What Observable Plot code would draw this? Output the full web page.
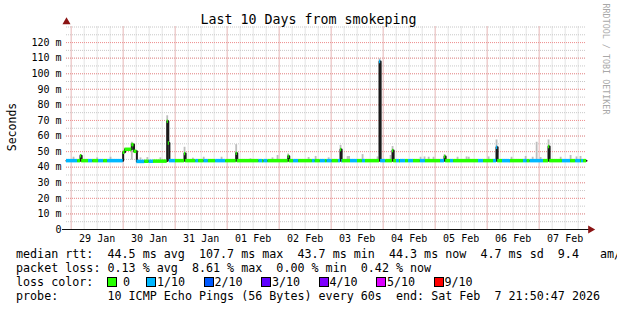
<!DOCTYPE html>
<html><head><meta charset="utf-8">
<script src="https://cdn.jsdelivr.net/npm/d3@7"></script>
<script src="https://cdn.jsdelivr.net/npm/@observablehq/plot@0.6"></script>
<style>
html,body{margin:0;padding:0;background:#fff;}
#wrap{position:relative;width:617px;height:310px;overflow:hidden;background:#fff;font-family:"DejaVu Sans Mono",monospace;color:#000;}
#wrap svg{position:absolute;left:0;top:0;}
.t{position:absolute;white-space:pre;line-height:14px;}
.sw{position:absolute;width:8px;height:8px;border:1px solid #000;box-sizing:content-box;}
</style></head><body><div id="wrap"></div>
<script>
// ---------- data ----------
const titleText = "Last 10 Days from smokeping";
const yLabel = "Seconds";
const watermark = "RRDTOOL / TOBI OETIKER";
const startTime = "2026-01-28T21:50:47";
const endTime = "2026-02-07T21:50:47";
const dayDates = ["2026-01-29","2026-01-30","2026-01-31","2026-02-01","2026-02-02","2026-02-03","2026-02-04","2026-02-05","2026-02-06","2026-02-07"];
const yTicks = [0,10,20,30,40,50,60,70,80,90,100,110,120];

const medTimes = [
"2026-01-28T21:50:47","2026-01-29T03:00","2026-01-29T04:20","2026-01-29T04:50","2026-01-29T08:00","2026-01-29T10:00","2026-01-29T12:40","2026-01-29T15:00","2026-01-29T16:50",
"2026-01-30T00:00","2026-01-30T00:50","2026-01-30T04:00","2026-01-30T05:00","2026-01-30T06:20","2026-01-30T10:00","2026-01-30T12:00","2026-01-30T14:00","2026-01-30T20:20","2026-01-30T20:50","2026-01-30T21:20",
"2026-01-31T00:10","2026-01-31T04:20","2026-01-31T04:50","2026-01-31T09:30","2026-01-31T10:50","2026-01-31T13:20","2026-01-31T15:20","2026-01-31T18:40","2026-01-31T23:20",
"2026-02-01T04:10","2026-02-01T04:40","2026-02-01T14:40","2026-02-01T16:20","2026-02-01T17:00","2026-02-01T18:50",
"2026-02-02T04:10","2026-02-02T04:40","2026-02-02T06:40","2026-02-02T09:00","2026-02-02T15:20","2026-02-02T16:40","2026-02-02T19:00","2026-02-02T21:20","2026-02-02T22:10",
"2026-02-03T00:30","2026-02-03T03:20","2026-02-03T04:20","2026-02-03T04:50","2026-02-03T05:10","2026-02-03T08:55","2026-02-03T12:10","2026-02-03T14:25","2026-02-03T15:50","2026-02-03T22:20","2026-02-03T22:50",
"2026-02-04T01:10","2026-02-04T04:20","2026-02-04T04:50","2026-02-04T06:10","2026-02-04T07:30","2026-02-04T08:00","2026-02-04T10:20","2026-02-04T11:40","2026-02-04T14:00","2026-02-04T17:10","2026-02-04T19:30",
"2026-02-05T02:30","2026-02-05T04:20","2026-02-05T04:50","2026-02-05T07:05","2026-02-05T08:30","2026-02-05T20:00","2026-02-05T22:20",
"2026-02-06T02:55","2026-02-06T04:20","2026-02-06T04:50","2026-02-06T07:05","2026-02-06T10:45","2026-02-06T16:45","2026-02-06T18:30","2026-02-06T19:50",
"2026-02-07T02:00","2026-02-07T04:20","2026-02-07T04:50","2026-02-07T10:45","2026-02-07T14:30","2026-02-07T16:50","2026-02-07T19:05","2026-02-07T19:30","2026-02-07T20:30"
];
const medValues = [
44.2,44.2,47.4,44.2,44.2,44.2,44.2,44.2,44.2,
49.6,51.5,54.5,50.2,43.7,43.8,43.8,43.9,69.5,55.5,44.2,
44.2,48.8,44.2,44.2,44.2,44.2,44.2,44.2,44.2,
49.0,44.2,44.2,44.2,44.2,44.2,
47.0,44.2,44.2,44.2,44.2,44.2,44.2,44.2,44.2,
44.2,44.2,51.3,44.2,44.2,44.2,44.2,44.2,44.2,107.8,44.2,
44.2,50.7,44.2,44.2,44.2,44.2,44.2,44.2,44.2,44.2,44.2,
44.2,46.8,44.2,44.2,44.2,44.2,44.2,
44.2,52.8,44.2,44.2,44.2,44.2,44.2,44.2,
44.2,53.3,44.2,44.2,44.2,44.2,44.2,44.2,44.2
];
const medLoss = [
1,0,0,0,1,0,1,0,1,
0,0,0,0,1,0,1,0,0,0,1,
0,0,0,1,0,1,0,1,0,
0,0,1,0,1,0,
0,0,1,0,1,0,1,0,1,
0,1,0,1,0,1,0,1,0,1,1,
0,0,0,1,0,1,0,1,0,1,0,
1,0,0,1,0,1,0,
1,1,0,1,0,1,0,1,
0,0,0,1,0,1,0,1,0
];

const smokeTimes = [
"2026-01-29T01:05","2026-01-29T04:20","2026-01-29T12:00","2026-01-29T18:10",
"2026-01-30T04:00","2026-01-30T08:00","2026-01-30T11:10","2026-01-30T17:10","2026-01-30T20:20","2026-01-30T20:50",
"2026-01-31T04:20","2026-01-31T08:10","2026-01-31T13:10","2026-01-31T21:25",
"2026-02-01T04:10","2026-02-01T10:45","2026-02-01T20:55","2026-02-01T23:15",
"2026-02-02T04:10","2026-02-02T13:35","2026-02-02T16:50","2026-02-02T22:50",
"2026-02-03T04:20","2026-02-03T07:35","2026-02-03T08:15","2026-02-03T14:30","2026-02-03T21:25","2026-02-03T22:20",
"2026-02-04T03:25","2026-02-04T04:20","2026-02-04T17:15","2026-02-04T19:05","2026-02-04T21:00","2026-02-04T23:15",
"2026-02-05T04:20","2026-02-05T10:20","2026-02-05T14:30","2026-02-05T15:30",
"2026-02-06T00:40","2026-02-06T04:20","2026-02-06T11:15","2026-02-06T17:45","2026-02-06T21:00","2026-02-06T22:50",
"2026-02-07T00:40","2026-02-07T04:20","2026-02-07T09:55","2026-02-07T14:30","2026-02-07T17:15","2026-02-07T19:05"
];
const smokeTops = [
46.4,48.0,46.0,46.4,
56.0,46.0,46.2,46.0,73.0,57.5,
52.8,45.8,46.4,46.4,
54.5,45.4,46.0,47.5,
48.5,46.2,46.9,46.0,
54.0,46.8,46.8,48.1,46.6,109.5,
47.5,53.3,46.4,46.6,46.4,46.4,
48.0,46.4,46.6,46.4,
46.6,57.5,46.4,46.9,46.4,56.0,
46.2,57.5,46.4,47.5,46.6,46.9
];

const lossLabels = ["0","1/10","2/10","3/10","4/10","5/10","9/10"];
const lossColors = ["#26ff00","#00b8ff","#0059ff","#5e00ff","#7e00ff","#dd00ff","#ff0000"];

const statLines = [
"median rtt:  44.5 ms avg  107.7 ms max  43.7 ms min  44.3 ms now  4.7 ms sd  9.4   am/s",
"packet loss: 0.13 % avg  8.61 % max  0.00 % min  0.42 % now",
"loss color:",
"probe:       10 ICMP Echo Pings (56 Bytes) every 60s  end: Sat Feb  7 21:50:47 2026"
];

// ---------- build ----------
const P = s => new Date(s + (s.length === 16 ? ":00Z" : "Z"));
const t0 = P(startTime), t1 = P(endTime);
const med = medTimes.map((s, i) => ({
  t: P(s), next: i + 1 < medTimes.length ? P(medTimes[i + 1]) : t1,
  v: medValues[i], loss: medLoss[i]
}));
const medLine = med.map(d => ({t: d.t, v: d.v})).concat([{t: t1, v: medValues[medValues.length - 1]}]);
const smoke = smokeTimes.map((s, i) => ({t: P(s), top: smokeTops[i]}));
const midnights = dayDates.map(s => new Date(s + "T00:00:00Z"));
const noons = midnights.map(d => d3.utcHour.offset(d, 12));
const sixHours = d3.utcHour.every(6).range(t0, t1);
const minorY = d3.range(5, 131, 5);

const fmtDay = d3.utcFormat("%d %b");
const FONT = "'DejaVu Sans Mono', monospace";

const chart = Plot.plot({
  width: 617, height: 250,
  marginLeft: 66, marginRight: 31, marginTop: 26.5, marginBottom: 21,
  style: {fontFamily: FONT, fontSize: "10px", color: "#000", background: "transparent", overflow: "visible"},
  x: {type: "utc", domain: [t0, t1]},
  y: {domain: [0, 130]},
  marks: [
    Plot.gridX(sixHours, {stroke: "#c8c8c8", strokeOpacity: 1, strokeDasharray: "1,1"}),
    Plot.gridY(minorY, {stroke: "#c8c8c8", strokeOpacity: 1, strokeDasharray: "1,1"}),
    Plot.gridX(midnights, {stroke: "#f29292", strokeOpacity: 1, strokeDasharray: "1,1"}),
    Plot.gridY(yTicks.filter(d => d > 0), {stroke: "#f29292", strokeOpacity: 1, strokeDasharray: "1,1"}),
    Plot.ruleX(smoke, {x: "t", y1: 44.6, y2: "top", stroke: "#bdbdbd", strokeWidth: 1.8}),
    Plot.line(medLine, {x: "t", y: "v", curve: "step-after", stroke: "#1a1a1a", strokeWidth: 2}),
    Plot.ruleY(med, {x1: "t", x2: "next", y: "v", stroke: d => lossColors[d.loss], strokeWidth: 3.5}),
    Plot.ruleX([0], {frameAnchor: "left", stroke: "#555", strokeWidth: 1.3, insetTop: -5, insetBottom: -4}),
    Plot.ruleY([0], {stroke: "#111", strokeWidth: 1, insetLeft: -4, insetRight: -3}),
    Plot.dot([0], {frameAnchor: "bottom-right", symbol: "triangle", rotate: 90, r: 3, fill: "#8b1414", stroke: "none", dx: 4}),
    Plot.dot([0], {frameAnchor: "top-left", symbol: "triangle", r: 3, fill: "#8b1414", stroke: "none", dy: -5}),
    Plot.axisX(noons, {tickFormat: fmtDay, tickSize: 0, tickPadding: 5, label: null, fontSize: 10}),
    Plot.axisY(yTicks, {tickFormat: d => d === 0 ? "0" : d + " m", tickSize: 0, tickPadding: 5, label: null, fontSize: 10})
  ]
});

const wrap = document.getElementById("wrap");
wrap.appendChild(chart);

function addText(txt, css) {
  const el = document.createElement("div");
  el.className = "t";
  el.textContent = txt;
  Object.assign(el.style, css);
  wrap.appendChild(el);
  return el;
}
addText(titleText, {left: "0px", width: "617px", textAlign: "center", top: "12px", fontSize: "13.3px", lineHeight: "16px"});
addText(yLabel, {left: "12px", top: "127px", fontSize: "11.5px", transform: "translate(-50%,-50%) rotate(-90deg)"});
addText(watermark, {left: "606px", top: "59px", fontSize: "8.4px", color: "#a8a8a8", transform: "translate(-50%,-50%) rotate(90deg)"});

const rowTops = [247, 261, 275, 289];
statLines.forEach((s, i) => addText(s, {left: "16px", top: rowTops[i] + "px", fontSize: "11.7px"}));

lossLabels.forEach((lab, i) => {
  const left = i === 0 ? 107 : 146 + (i - 1) * 57.5;
  const sw = document.createElement("div");
  sw.className = "sw";
  Object.assign(sw.style, {left: left + "px", top: (rowTops[2] + 2) + "px", background: lossColors[i]});
  wrap.appendChild(sw);
  addText(lab, {left: (left + (i === 0 ? 16 : 11)) + "px", top: rowTops[2] + "px", fontSize: "11.7px"});
});
</script>
</body></html>
